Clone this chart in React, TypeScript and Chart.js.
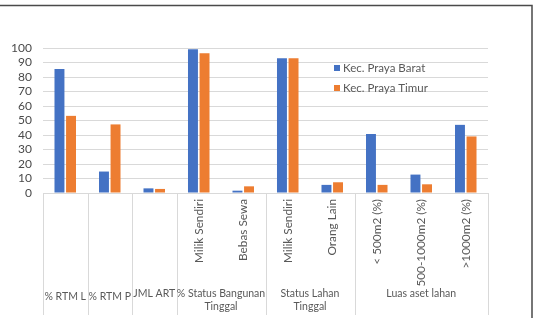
import React, { useEffect, useRef } from "react";
import { Chart, registerables } from "chart.js";

Chart.register(...registerables);

const subLabels = ["% RTM L", "% RTM P", "JML ART", "Milik Sendiri", "Bebas Sewa", "Milik Sendiri", "Orang Lain", "< 500m2 (%)", "500-1000m2 (%)", ">1000m2 (%)"];
const groups: { label: string[]; start: number; end: number; rotated: boolean }[] = [
  { label: ["% RTM L"], start: 0, end: 0, rotated: false },
  { label: ["% RTM P"], start: 1, end: 1, rotated: false },
  { label: ["JML ART"], start: 2, end: 2, rotated: false },
  { label: ["% Status Bangunan", "Tinggal"], start: 3, end: 4, rotated: true },
  { label: ["Status Lahan", "Tinggal"], start: 5, end: 6, rotated: true },
  { label: ["Luas aset lahan"], start: 7, end: 9, rotated: true },
];
const prayaBarat = [85.5, 14.8, 3.2, 99.2, 1.6, 93, 5.6, 40.7, 12.7, 47];
const prayaTimur = [53.2, 47.3, 2.8, 96.3, 4.6, 93, 7.4, 5.6, 6, 39];
const yTicks = [0, 10, 20, 30, 40, 50, 60, 70, 80, 90, 100];

const FONT = "Lato, 'Liberation Sans', sans-serif";
const TEXT = "#595959";
const GRID = "#d9d9d9";

const decorPlugin = {
  id: "decor",
  afterDraw(chart: any) {
    const ctx = chart.ctx;
    const xs = chart.scales.x;
    const area = chart.chartArea;
    const bottom = chart.height - 3;
    const half = (xs.getPixelForValue(1) - xs.getPixelForValue(0)) / 2;
    ctx.save();
    ctx.strokeStyle = GRID;
    ctx.lineWidth = 1;
    const bounds: number[] = [];
    groups.forEach((g) => {
      bounds.push(xs.getPixelForValue(g.start) - half);
    });
    bounds.push(xs.getPixelForValue(groups[groups.length - 1].end) + half);
    bounds.forEach((bx) => {
      const px = Math.round(bx) + 0.5;
      ctx.beginPath();
      ctx.moveTo(px, area.bottom);
      ctx.lineTo(px, bottom);
      ctx.stroke();
    });
    ctx.fillStyle = TEXT;
    ctx.font = `11.8px ${FONT}`;
    groups.forEach((g) => {
      if (!g.rotated) return;
      for (let i = g.start; i <= g.end; i++) {
        const x = xs.getPixelForValue(i);
        ctx.save();
        ctx.translate(x, area.bottom + 6);
        ctx.rotate(-Math.PI / 2);
        ctx.textAlign = "right";
        ctx.textBaseline = "middle";
        ctx.fillText(subLabels[i], 0, 0);
        ctx.restore();
      }
    });
    ctx.textAlign = "center";
    ctx.textBaseline = "middle";
    ctx.font = `10.5px ${FONT}`;
    groups.forEach((g) => {
      const cx = (xs.getPixelForValue(g.start) + xs.getPixelForValue(g.end)) / 2;
      const y0 = g.label.length === 1 && !g.rotated && g.start < 2 ? area.bottom + 104 : area.bottom + 101;
      g.label.forEach((line, k) => {
        ctx.fillText(line, cx, y0 + k * 13);
      });
    });
    const lx = 334;
    const ly = [area.top + 20, area.top + 40];
    chart.data.datasets.forEach((ds: any, k: number) => {
      ctx.fillStyle = ds.backgroundColor;
      ctx.fillRect(lx, ly[k] - 3, 6, 6);
      ctx.fillStyle = TEXT;
      ctx.textAlign = "left";
      ctx.font = `11.5px ${FONT}`;
      ctx.fillText(ds.label, lx + 9, ly[k]);
    });
    ctx.strokeStyle = "#4a4a4a";
    ctx.lineWidth = 1.5;
    ctx.beginPath();
    ctx.moveTo(0, 5.5);
    ctx.lineTo(532, 5.5);
    ctx.lineTo(532, chart.height);
    ctx.stroke();
    ctx.restore();
  },
};

export default function App() {
  const ref = useRef<HTMLCanvasElement | null>(null);
  useEffect(() => {
    document.body.style.margin = "0";
    const chart = new Chart(ref.current!, {
      type: "bar",
      data: {
        labels: subLabels,
        datasets: [
          { label: "Kec. Praya Barat", data: prayaBarat, backgroundColor: "#4472C4", categoryPercentage: 0.52, barPercentage: 0.86 },
          { label: "Kec. Praya Timur", data: prayaTimur, backgroundColor: "#ED7D31", categoryPercentage: 0.52, barPercentage: 0.86 },
        ],
      },
      options: {
        animation: false,
        responsive: false,
        devicePixelRatio: 1,
        layout: { padding: { left: 0, right: 47, top: 48, bottom: 125 } },
        plugins: { legend: { display: false }, tooltip: { enabled: false } },
        scales: {
          x: {
            grid: { display: false, drawTicks: false },
            border: { color: GRID },
            ticks: { display: false },
          },
          y: {
            min: 0,
            max: 100,
            afterFit: (s: any) => { s.width = 43; },
            afterBuildTicks: (s: any) => { s.ticks = yTicks.map((v) => ({ value: v })); },
            grid: { color: GRID, drawTicks: false },
            border: { display: false },
            ticks: { padding: 11, color: "#4a4a4a", autoSkip: false, font: { family: FONT, size: 12 } },
          },
        },
      },
      plugins: [decorPlugin],
    });
    return () => chart.destroy();
  }, []);
  return (
    <div style={{ position: "relative", width: 535, height: 318, background: "#fff" }}>
      <canvas ref={ref} width={535} height={318} style={{ display: "block", width: 535, height: 318 }} />
    </div>
  );
}
